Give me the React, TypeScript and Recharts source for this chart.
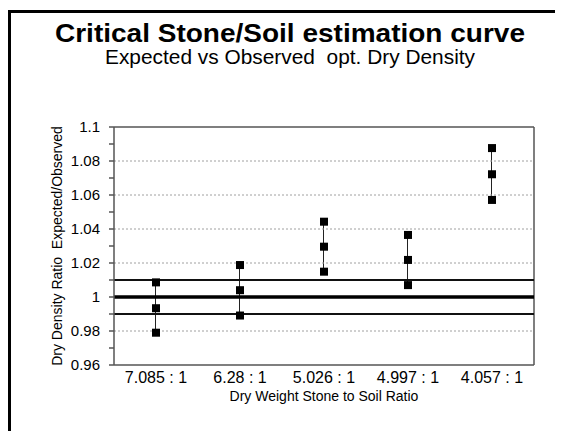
import React from 'react';
import { ComposedChart, Line, Bar, XAxis, YAxis, ReferenceLine } from 'recharts';

const categories = ['7.085 : 1', '6.28 : 1', '5.026 : 1', '4.997 : 1', '4.057 : 1'];
const highValues = [1.0086, 1.0188, 1.0443, 1.0365, 1.0876];
const midValues = [0.9934, 1.004, 1.0296, 1.0218, 1.0722];
const lowValues = [0.979, 0.9891, 1.0149, 1.007, 1.0571];

const yTicks = [0.96, 0.97, 0.98, 0.99, 1, 1.01, 1.02, 1.03, 1.04, 1.05, 1.06, 1.07, 1.08, 1.09, 1.1];
const yLabelTicks = [0.96, 0.98, 1, 1.02, 1.04, 1.06, 1.08, 1.1];
const gridValues = [0.98, 1.02, 1.04, 1.06, 1.08];
const bandValues = [0.99, 1.01];
const targetValue = 1;
const boundaryTicks = [0, 1, 2, 3, 4, 5];

const data = categories.map((name, i) => ({
  x: i + 0.5,
  name,
  high: highValues[i],
  mid: midValues[i],
  low: lowValues[i],
  range: [lowValues[i], highValues[i]],
}));

const FONT = '"Liberation Sans", Arial, Helvetica, sans-serif';

const squareDot = (p: any) => {
  if (p.cx == null || p.cy == null) return <g key={`d-${p.dataKey}-${p.index}`} />;
  return (
    <rect
      key={`d-${p.dataKey}-${p.index}`}
      x={p.cx - 4}
      y={p.cy - 4}
      width={8}
      height={8}
      fill="#000"
    />
  );
};

const yFmt = (v: number) => (yLabelTicks.some((t) => Math.abs(t - v) < 1e-9) ? String(v) : '');

export default function App() {
  return (
    <div style={{ position: 'relative', width: 547, height: 423, fontFamily: FONT }}>
      <style>{'html, body { overflow: hidden; } body { height: 423px; }'}</style>
      <ComposedChart
        width={547}
        height={423}
        data={data}
        margin={{ top: 119, right: 21, bottom: 0, left: 46 }}
        style={{ fontFamily: FONT }}
      >
        {gridValues.map((v) => (
          <ReferenceLine key={`g${v}`} y={v} stroke="#a0a0a0" strokeWidth={1} strokeDasharray="2 2" />
        ))}
        <ReferenceLine y={1.1} stroke="#555" strokeWidth={1.5} ifOverflow="extendDomain" />
        <ReferenceLine x={5} stroke="#555" strokeWidth={1.5} ifOverflow="extendDomain" />
        <XAxis
          xAxisId={0}
          dataKey="x"
          type="number"
          domain={[0, 5]}
          ticks={boundaryTicks}
          interval={0}
          height={1}
          tick={false}
          tickSize={5}
          tickLine={{ stroke: '#555', strokeWidth: 1.5 }}
          axisLine={{ stroke: '#555', strokeWidth: 1.5 }}
        />
        <XAxis
          xAxisId="lab"
          dataKey="x"
          type="number"
          domain={[0, 5]}
          ticks={data.map((d) => d.x)}
          interval={0}
          tickFormatter={(v: number) => categories[Math.floor(v)]}
          height={65}
          tickSize={0}
          tickMargin={6}
          tickLine={false}
          axisLine={false}
          tick={{ fontSize: 16, fill: '#000', fontFamily: FONT }}
          label={{
            value: 'Dry Weight Stone to Soil Ratio',
            position: 'insideBottom',
            offset: 30,
            fontSize: 14,
            fill: '#000',
            fontFamily: FONT,
          }}
        />
        <YAxis
          type="number"
          domain={[0.96, 1.1]}
          ticks={yTicks}
          interval={0}
          width={60}
          tickFormatter={yFmt}
          tickSize={5}
          tickMargin={9}
          tickLine={{ stroke: '#555', strokeWidth: 1.5 }}
          axisLine={{ stroke: '#555', strokeWidth: 1.5 }}
          tick={{ fontSize: 15, fill: '#000', fontFamily: FONT }}
          label={{
            value: 'Dry Density Ratio \u00A0Expected/Observed',
            angle: -90,
            position: 'insideLeft',
            offset: 3.5,
            fontSize: 14,
            fill: '#000',
            fontFamily: FONT,
            style: { textAnchor: 'middle' },
          }}
        />
        {bandValues.map((v) => (
          <ReferenceLine key={`b${v}`} y={v} stroke="#111" strokeWidth={2.2} />
        ))}
        <ReferenceLine y={targetValue} stroke="#000" strokeWidth={3.5} />
        <Bar dataKey="range" barSize={1} fill="#222" isAnimationActive={false} />
        <Line dataKey="high" stroke="none" dot={squareDot} activeDot={false} isAnimationActive={false} />
        <Line dataKey="mid" stroke="none" dot={squareDot} activeDot={false} isAnimationActive={false} />
        <Line dataKey="low" stroke="none" dot={squareDot} activeDot={false} isAnimationActive={false} />
      </ComposedChart>
      <svg
        width={547}
        height={423}
        style={{ position: 'absolute', left: 0, top: 0, pointerEvents: 'none', overflow: 'visible' }}
      >
        <path d="M1.5 423 L1.5 3.5 L555 3.5" fill="none" stroke="#000" strokeWidth={3} />
        <text
          x={282}
          y={34}
          textAnchor="middle"
          fontFamily={FONT}
          fontWeight="bold"
          fontSize={25}
          textLength={470}
          lengthAdjust="spacingAndGlyphs"
          fill="#000"
        >
          Critical Stone/Soil estimation curve
        </text>
        <text
          x={282}
          y={56}
          textAnchor="middle"
          fontFamily={FONT}
          fontSize={20}
          textLength={370}
          lengthAdjust="spacingAndGlyphs"
          fill="#000"
        >
          {'Expected vs Observed \u00A0opt. Dry Density'}
        </text>
      </svg>
    </div>
  );
}
